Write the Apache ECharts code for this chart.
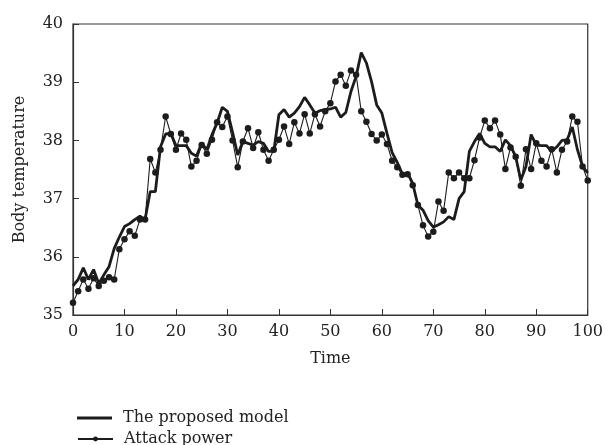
<!DOCTYPE html>
<html>
<head>
<meta charset="utf-8">
<script src="https://cdn.jsdelivr.net/npm/echarts@6/dist/echarts.min.js"></script>
<style>
  html, body { margin: 0; padding: 0; background: #fff; }
  #chart { width: 606px; height: 445px; }
</style>
</head>
<body>
<div id="chart"></div>
<script>
// Body temperature readings sampled once per time step (t = 0..100)
const modelValues = [
  35.50, 35.61, 35.81, 35.61, 35.78, 35.54, 35.69, 35.83, 36.14, 36.34,
  36.52, 36.57, 36.64, 36.70, 36.64, 37.12, 37.12, 37.89, 38.11, 38.12,
  37.91, 37.91, 37.91, 37.78, 37.73, 37.95, 37.84, 38.10, 38.30, 38.57,
  38.50, 38.14, 37.75, 37.98, 37.95, 37.92, 37.98, 37.95, 37.81, 37.81,
  38.44, 38.53, 38.40, 38.47, 38.58, 38.74, 38.61, 38.47, 38.51, 38.53,
  38.54, 38.57, 38.40, 38.48, 38.84, 39.10, 39.51, 39.33, 39.01, 38.61,
  38.47, 38.12, 37.79, 37.62, 37.42, 37.44, 37.26, 36.89, 36.80, 36.62,
  36.51, 36.55, 36.60, 36.69, 36.64, 37.00, 37.12, 37.81, 37.98, 38.12,
  37.95, 37.89, 37.89, 37.81, 38.01, 37.91, 37.72, 37.32, 37.55, 38.10,
  37.92, 37.91, 37.91, 37.81, 37.89, 38.00, 38.01, 38.23, 37.84, 37.55,
  37.44
];

const attackValues = [
  35.21, 35.41, 35.61, 35.45, 35.63, 35.50, 35.59, 35.65, 35.61, 36.13,
  36.30, 36.44, 36.36, 36.64, 36.64, 37.68, 37.45, 37.84, 38.41, 38.11,
  37.84, 38.12, 38.01, 37.55, 37.65, 37.92, 37.77, 38.01, 38.31, 38.23,
  38.41, 38.00, 37.54, 37.98, 38.21, 37.87, 38.14, 37.84, 37.65, 37.84,
  38.01, 38.24, 37.94, 38.31, 38.12, 38.45, 38.12, 38.45, 38.24, 38.50,
  38.64, 39.01, 39.13, 38.94, 39.20, 39.13, 38.50, 38.32, 38.11, 38.00,
  38.10, 37.94, 37.65, 37.54, 37.41, 37.42, 37.23, 36.89, 36.54, 36.35,
  36.43, 36.95, 36.79, 37.45, 37.35, 37.45, 37.35, 37.35, 37.66, 38.05,
  38.34, 38.21, 38.34, 38.10, 37.51, 37.88, 37.72, 37.22, 37.85, 37.51,
  37.95, 37.65, 37.55, 37.85, 37.45, 37.84, 37.98, 38.41, 38.32, 37.55,
  37.31
];

const seriesNames = ['The proposed model', 'Attack power'];
const xTitle = 'Time';
const yTitle = 'Body temperature';

const ink = '#1c1c1c';
const serif = '"DejaVu Serif", "Liberation Serif", serif';
const textColor = '#222';

const toPoints = arr => arr.map((v, i) => [i, v]);

const chart = echarts.init(document.getElementById('chart'), null, { renderer: 'canvas' });

const legendText = { fontFamily: serif, fontSize: 16, color: textColor, padding: [0, 0, 0, 6] };

chart.setOption({
  animation: false,
  backgroundColor: '#fff',
  textStyle: { fontFamily: serif, color: textColor },
  grid: {
    left: 73, right: 14, top: 24, bottom: 130,
    show: true, borderColor: '#333', borderWidth: 1.2, backgroundColor: 'transparent'
  },
  legend: [
    {
      left: 72, top: 405,
      itemWidth: 35, itemHeight: 3,
      icon: 'rect',
      textStyle: legendText,
      data: [seriesNames[0]]
    },
    {
      left: 72, top: 426,
      itemWidth: 35, itemHeight: 6,
      textStyle: legendText,
      data: [seriesNames[1]]
    }
  ],
  xAxis: {
    type: 'value', min: 0, max: 100, interval: 10,
    name: xTitle, nameLocation: 'middle', nameGap: 36,
    nameTextStyle: { fontFamily: serif, fontSize: 16, color: textColor },
    axisLine: { show: true, lineStyle: { color: '#333', width: 1.2 } },
    axisTick: { show: true, inside: true, length: 6, lineStyle: { color: '#333' } },
    axisLabel: { fontFamily: serif, fontSize: 16, color: textColor, margin: 9 },
    splitLine: { show: false }
  },
  yAxis: {
    type: 'value', min: 35, max: 40, interval: 1,
    name: yTitle, nameLocation: 'middle', nameGap: 45, nameRotate: 90,
    nameTextStyle: { fontFamily: serif, fontSize: 16, color: textColor },
    axisLine: { show: true, lineStyle: { color: '#333', width: 1.2 } },
    axisTick: { show: true, inside: true, length: 6, lineStyle: { color: '#333' } },
    axisLabel: { fontFamily: serif, fontSize: 16, color: textColor, margin: 10 },
    splitLine: { show: false }
  },
  series: [
    {
      name: seriesNames[0],
      type: 'line',
      data: toPoints(modelValues),
      symbol: 'none',
      lineStyle: { color: ink, width: 2.8 },
      itemStyle: { color: ink },
      z: 3
    },
    {
      name: seriesNames[1],
      type: 'line',
      data: toPoints(attackValues),
      symbol: 'circle',
      symbolSize: 6.5,
      showSymbol: true,
      lineStyle: { color: ink, width: 1.1 },
      itemStyle: { color: ink },
      z: 2
    }
  ]
});
</script>
</body>
</html>
